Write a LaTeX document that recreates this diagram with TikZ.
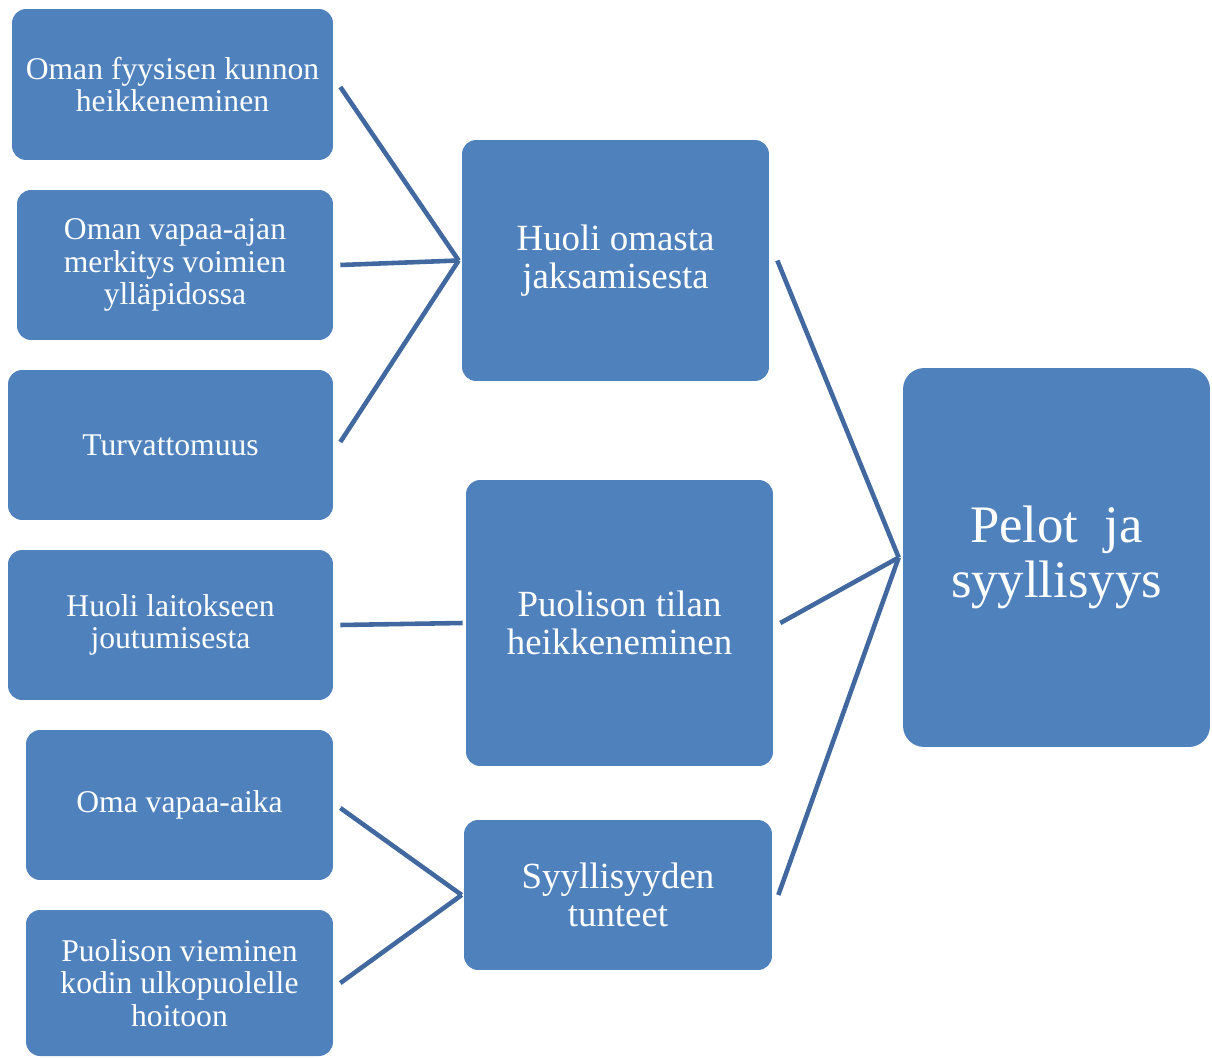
\documentclass[tikz,border=0pt]{standalone}
\usepackage{fontspec}
\setmainfont{Liberation Serif}
\definecolor{boxblue}{RGB}{79,129,189}
\definecolor{linkblue}{RGB}{65,105,160}
\begin{document}
\begin{tikzpicture}[x=0.02cm,y=-0.02cm,
  card/.style={fill=boxblue, draw=none, text=white, align=center, inner sep=0pt,
    rounded corners=8pt},
  small/.style={card, font=\fontsize{18}{18.5}\selectfont},
  mid/.style={card, font=\fontsize{21}{22}\selectfont},
  big/.style={card, font=\fontsize{30}{31}\selectfont, rounded corners=12pt},
  link/.style={draw=linkblue, line width=2.6pt}]
\useasboundingbox (0,0) rectangle (1212,1057);

% left column: individual concerns
\node[small, minimum width=6.42cm, minimum height=3.02cm] (b1) at (172.5,84.5)
  {Oman fyysisen kunnon\\heikkeneminen};
\node[small, minimum width=6.32cm, minimum height=3.0cm] (b2) at (175,265)
  {Oman vapaa-ajan\\merkitys voimien\\ylläpidossa};
\node[small, minimum width=6.5cm, minimum height=3.0cm] (b3) at (170.5,445)
  {Turvattomuus};
\node[small, minimum width=6.5cm, minimum height=3.0cm] (b4) at (170.5,625)
  {Huoli laitokseen\\joutumisesta};
\node[small, minimum width=6.14cm, minimum height=3.0cm] (b5) at (179.5,805)
  {Oma vapaa-aika};
\node[small, minimum width=6.14cm, minimum height=2.92cm] (b6) at (179.5,983)
  {Puolison vieminen\\kodin ulkopuolelle\\hoitoon};

% middle column: themes
\node[mid, minimum width=6.14cm, minimum height=4.82cm] (A) at (615.5,260.5)
  {Huoli omasta\\jaksamisesta};
\node[mid, minimum width=6.14cm, minimum height=5.72cm] (B) at (619.5,623)
  {Puolison tilan\\heikkeneminen};
\node[mid, minimum width=6.16cm, minimum height=3.0cm] (C) at (618,895)
  {Syyllisyyden\\tunteet};

% right column: main category
\node[big, minimum width=6.14cm, minimum height=7.58cm] (R) at (1056.5,557.5)
  {Pelot\ \ ja\\syyllisyys};

% junction points just left of each target box
\coordinate (jA) at ([xshift=-0.06cm]A.west);
\coordinate (jB) at ([xshift=-0.06cm]B.west);
\coordinate (jC) at ([xshift=-0.04cm]C.west);
\coordinate (jR) at ([xshift=-0.08cm]R.west);

% connectors
\draw[link] ([xshift=0.14cm,yshift=-0.05cm]b1.east) -- (jA);
\draw[link] ([xshift=0.14cm]b2.east) -- (jA);
\draw[link] ([xshift=0.14cm,yshift=0.06cm]b3.east) -- (jA);
\draw[link] ([xshift=0.14cm]b4.east) -- (jB);
\draw[link] ([xshift=0.14cm,yshift=-0.06cm]b5.east) -- (jC);
\draw[link] ([xshift=0.14cm]b6.east) -- (jC);
\draw[link] ([xshift=0.16cm]A.east) -- (jR);
\draw[link] ([xshift=0.14cm]B.east) -- (jR);
\draw[link] ([xshift=0.12cm]C.east) -- (jR);
\end{tikzpicture}
\end{document}
